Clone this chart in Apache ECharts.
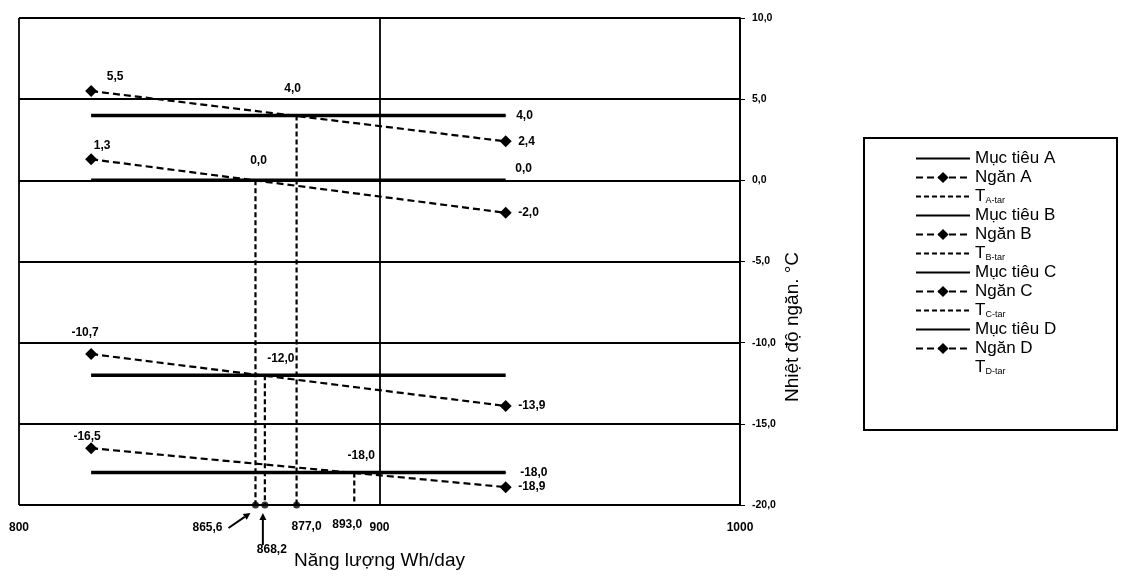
<!DOCTYPE html>
<html><head><meta charset="utf-8">
<script src="https://cdn.jsdelivr.net/npm/echarts@6/dist/echarts.min.js"></script>
<style>html,body{margin:0;padding:0;background:#fff}#c{width:1123px;height:579px}</style>
</head><body><div id="c"></div>
<script>
// ---------- data ----------
const groups = ['A', 'B', 'C', 'D'];
const xStart = 820;
const xEnd = 935;
const targetTemp = [4.0, 0.0, -12.0, -18.0];     // Mục tiêu
const compStart = [5.5, 1.3, -10.7, -16.5];      // Ngăn (start)
const compEnd = [2.4, -2.0, -13.9, -18.9];       // Ngăn (end)
const tTar = [877.0, 865.6, 868.2, 893.0];       // T x-tar
const xTickValues = [800, 900, 1000];
const yTickValues = [-20, -15, -10, -5, 0, 5, 10];

// ---------- styles (label placement) ----------
const startLabelOffset = [[24, -14], [11, -14], [-6, -21], [-4, -11]];
const targetEndLabel = [{position: 'right', distance: 10}, {position: 'inside', offset: [18, -12]}, null, {position: 'right', distance: 14}];
const crossLabelOffset = [[-4, -27], [3, -20], [16, -16], [7, -17]];
const axisMarkOffset = [[10, 22], [-48, 23], [7, 45], [-7, 20]];
const axisDotSize = [7, 7, 7, 0];
const arrowOffsets = [null, [[-27, 23], [-5, 8]], [[-2, 40], [-2, 8]], null];

const FONT = 'Liberation Sans';
const fmt = v => v.toFixed(1).replace('.', ',');
const yMin = yTickValues[0], yMax = yTickValues[yTickValues.length - 1];

const series = [];
const legendData = [];
const hideSym = {opacity: 0};
groups.forEach((g, i) => {
  series.push({
    name: 'Mục tiêu ' + g, type: 'line', symbol: 'none', z: 3,
    data: [[xStart, targetTemp[i]], [xEnd, targetTemp[i]]],
    lineStyle: {color: '#000', width: 3.5}, itemStyle: {color: '#000'}
  });
  series.push({
    name: 'Ngăn ' + g, type: 'line', symbol: 'diamond', symbolSize: 12, z: 4,
    data: [[xStart, compStart[i]], [xEnd, compEnd[i]]],
    lineStyle: {color: '#000', width: 2.2, type: [7, 4]}, itemStyle: {color: '#000'}
  });
  series.push({
    name: 'T' + g + '-tar', type: 'line', symbol: 'none', z: 3,
    data: [[tTar[i], targetTemp[i]], [tTar[i], yMin]],
    lineStyle: {color: '#000', width: 2.2, type: [5, 3]}, itemStyle: {color: '#000'}
  });
  legendData.push({name: 'Mục tiêu ' + g, itemStyle: hideSym});
  legendData.push({name: 'Ngăn ' + g});
  legendData.push(g === 'D'
    ? {name: 'T' + g + '-tar', itemStyle: hideSym, lineStyle: {opacity: 0}}
    : {name: 'T' + g + '-tar', itemStyle: hideSym});
});

// labels
const labelData = [];
const baseLabel = {show: true, color: '#000', fontFamily: FONT, fontWeight: 'bold', fontSize: 12};
const lbl = (x, y, text, cfg) => labelData.push({
  value: [x, y],
  label: Object.assign({}, baseLabel, {formatter: text}, cfg)
});
groups.forEach((g, i) => {
  lbl(xStart, compStart[i], fmt(compStart[i]), {position: 'inside', offset: startLabelOffset[i]});
  lbl(xEnd, compEnd[i], fmt(compEnd[i]), {position: 'right', distance: 12});
  if (targetEndLabel[i]) lbl(xEnd, targetTemp[i], fmt(targetTemp[i]), targetEndLabel[i]);
  lbl(tTar[i], targetTemp[i], fmt(targetTemp[i]), {position: 'inside', offset: crossLabelOffset[i]});
  lbl(tTar[i], yMin, fmt(tTar[i]), {position: 'inside', offset: axisMarkOffset[i]});
});
series.push({
  name: 'labels', type: 'scatter', symbolSize: 1, z: 6, silent: true,
  itemStyle: {color: '#000', opacity: 1},
  label: baseLabel,
  emphasis: {disabled: true},
  data: labelData
});
series.push({
  name: 'dots', type: 'scatter', symbol: 'circle', z: 7, silent: true, clip: false,
  itemStyle: {color: '#000'},
  data: tTar.map((x, i) => ({value: [x, yMin], symbolSize: axisDotSize[i]}))
});

const richName = {
  n: {fontSize: 17, fontFamily: FONT, color: '#000'},
  t: {fontSize: 17, fontFamily: FONT, color: '#000'},
  s: {fontSize: 9, lineHeight: 8, verticalAlign: 'bottom', fontFamily: FONT, color: '#000'}
};

const option = {
  backgroundColor: '#fff',
  animation: false,
  grid: {left: 19, right: 383, top: 18, bottom: 74},
  xAxis: {
    type: 'value', min: xTickValues[0], max: xTickValues[xTickValues.length - 1], interval: 100,
    name: 'Năng lượng Wh/day', nameLocation: 'middle', nameGap: 46,
    nameTextStyle: {fontFamily: FONT, fontSize: 19, color: '#000'},
    axisLine: {show: true, lineStyle: {color: '#000', width: 1.8}},
    axisTick: {show: true, length: 4, lineStyle: {color: '#000'}},
    axisLabel: {color: '#000', fontFamily: FONT, fontWeight: 'bold', fontSize: 12, margin: 17, formatter: v => String(v)},
    splitLine: {show: true, lineStyle: {color: '#000', width: 1.8}}
  },
  yAxis: {
    type: 'value', position: 'right', min: yMin, max: yMax, interval: 5,
    axisLine: {show: true, lineStyle: {color: '#000', width: 1.8}},
    axisTick: {show: true, length: 5, lineStyle: {color: '#000'}},
    axisLabel: {color: '#000', fontFamily: FONT, fontWeight: 'bold', fontSize: 10.5, margin: 12, formatter: v => fmt(v)},
    splitLine: {show: true, lineStyle: {color: '#000', width: 1.8}}
  },
  legend: {
    orient: 'vertical', left: 910, top: 145, itemWidth: 54, itemHeight: 14, itemGap: 2,
    data: legendData,
    formatter: name => name.charAt(0) === 'T' ? '{t|T}{s|' + name.slice(1) + '}' : '{n|' + name + '}',
    textStyle: {fontFamily: FONT, fontSize: 17, color: '#000', rich: richName}
  },
  graphic: [
    {type: 'rect', id: 'legendBox', shape: {x: 864, y: 138, width: 253, height: 292}, style: {fill: 'none', stroke: '#000', lineWidth: 2}},
    {type: 'text', id: 'yName', x: 793, y: 327, rotation: Math.PI / 2,
      style: {text: 'Nhiệt độ ngăn. °C', fontSize: 19, fontFamily: FONT, fill: '#000', align: 'center', verticalAlign: 'middle'}}
  ],
  series: series
};

const chart = echarts.init(document.getElementById('c'));
chart.setOption(option);

// arrows pointing to the axis marks
const arrows = [];
tTar.forEach((x, i) => {
  const off = arrowOffsets[i];
  if (!off) return;
  const p = chart.convertToPixel({gridIndex: 0}, [x, yMin]);
  const x1 = p[0] + off[0][0], y1 = p[1] + off[0][1];
  const x2 = p[0] + off[1][0], y2 = p[1] + off[1][1];
  const ang = Math.atan2(y2 - y1, x2 - x1);
  const L = 7, W = 3.5;
  const bx = x2 - L * Math.cos(ang), by = y2 - L * Math.sin(ang);
  arrows.push({type: 'line', id: 'arrL' + i, shape: {x1: x1, y1: y1, x2: bx, y2: by}, style: {stroke: '#000', lineWidth: 2}});
  arrows.push({type: 'polygon', id: 'arrH' + i, shape: {points: [
    [x2, y2],
    [bx + W * Math.sin(ang), by - W * Math.cos(ang)],
    [bx - W * Math.sin(ang), by + W * Math.cos(ang)]
  ]}, style: {fill: '#000'}});
});
chart.setOption({graphic: arrows});
</script>
</body></html>
